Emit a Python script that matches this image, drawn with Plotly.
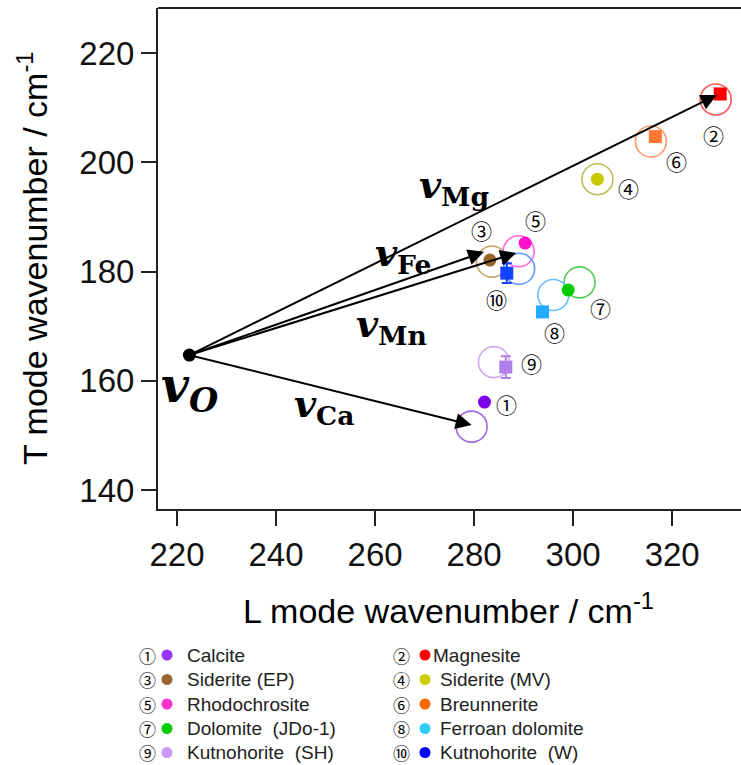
import plotly.graph_objects as go

# ---- data -------------------------------------------------------------
minerals = ["Calcite", "Magnesite", "Siderite (EP)", "Siderite (MV)", "Rhodochrosite",
            "Breunnerite", "Dolomite\u00a0 (JDo-1)", "Ferroan dolomite",
            "Kutnohorite\u00a0 (SH)", "Kutnohorite\u00a0 (W)"]
circled = ["①", "②", "③", "④", "⑤", "⑥", "⑦", "⑧", "⑨", "⑩"]

# measured L / T mode wavenumbers (filled markers)
meas_L = [282.1, 329.7, 283.2, 304.9, 290.3, 316.6, 299.0, 293.8, 286.4, 286.6]
meas_T = [156.1, 212.5, 182.1, 196.9, 185.2, 204.7, 176.6, 172.6, 162.5, 179.7]
meas_T_err = [0, 0, 0, 0, 0, 0, 0, 0, 2.0, 1.8]

# calculated positions (open circles)
calc_L = [279.5, 328.8, 283.6, 304.9, 289.0, 315.7, 301.3, 296.0, 284.0, 289.1]
calc_T = [151.6, 211.5, 181.8, 196.9, 183.7, 203.8, 178.0, 175.7, 163.4, 180.5]

# vector origin and end points
origin_L, origin_T = 222.5, 164.7
vec_names = ["Mg", "Fe", "Mn", "Ca"]
vec_end_L = [329.0, 282.0, 288.5, 279.5]
vec_end_T = [212.3, 183.6, 183.4, 151.9]

x_ticks = [220, 240, 260, 280, 300, 320]
y_ticks = [140, 160, 180, 200, 220]

# ---- styles -----------------------------------------------------------
fill_colors = ["#7B00E6", "#FF0000", "#9A6428", "#C8C800", "#FF11CC",
               "#FF7733", "#00CC00", "#22AAFF", "#B080E8", "#1144FF"]
ring_colors = ["#A566E8", "#FF5555", "#C8A870", "#BDBD55", "#FF66DD",
               "#FF9966", "#55CC55", "#66BBFF", "#CCAAF0", "#6699FF"]
legend_colors = ["#9933FF", "#FF0000", "#996633", "#CCCC00", "#FF33CC",
                 "#FF6600", "#00CC00", "#33CCFF", "#CC99FF", "#0000FF"]
symbols = ["circle", "square", "circle", "circle", "circle",
           "square", "circle", "square", "square", "square"]
# pixel offsets of the circled numbers from each filled marker
num_dx = [22, -7, -8, 31, 10, 21, 32, 12, 26, -10]
num_dy = [-2, -41, 30, -9, 23, -24, -18, -20, 4, -26]

AX_FONT = "Arial, 'Liberation Sans', sans-serif"
MATH_FONT = "'DejaVu Serif', serif"
NUM_FONT = "'Noto Sans CJK JP', 'DejaVu Sans', sans-serif"

W, H = 741, 765
ML, MR, MT, MB = 158, 0, 8, 256
PW, PH = W - ML - MR, H - MT - MB

def px_to_paper(px, py):
    return (px - ML) / PW, (H - MB - py) / PH

fig = go.Figure()

# open circles
for i in range(len(minerals)):
    fig.add_trace(go.Scatter(
        x=[calc_L[i]], y=[calc_T[i]], mode="markers",
        marker=dict(symbol="circle-open", size=31, color=ring_colors[i],
                    line=dict(color=ring_colors[i], width=1.6)),
        showlegend=False, hoverinfo="skip"))

# filled markers
for i in range(len(minerals)):
    err = None
    if meas_T_err[i] > 0:
        err = dict(type="data", array=[meas_T_err[i]], color=fill_colors[i],
                   thickness=2, width=5)
    fig.add_trace(go.Scatter(
        x=[meas_L[i]], y=[meas_T[i]], mode="markers",
        marker=dict(symbol=symbols[i], size=13, color=fill_colors[i],
                    line=dict(width=0)),
        error_y=err, name=minerals[i], showlegend=False))

# origin point
fig.add_trace(go.Scatter(x=[origin_L], y=[origin_T], mode="markers",
                         marker=dict(size=13, color="black"),
                         showlegend=False, hoverinfo="skip"))

annotations = []

# vectors
for j in range(len(vec_names)):
    annotations.append(dict(
        x=vec_end_L[j], y=vec_end_T[j], xref="x", yref="y",
        ax=origin_L, ay=origin_T, axref="x", ayref="y",
        text="", showarrow=True, arrowhead=2, arrowsize=1.6,
        arrowwidth=2, arrowcolor="black", standoff=0, startstandoff=0))

# vector labels
vec_label_pos = {"Mg": (268.5, 195.5), "Fe": (259.5, 183.0),
                 "Mn": (255.8, 170.0), "Ca": (243.3, 155.4)}
for name, (lx, ly) in vec_label_pos.items():
    annotations.append(dict(
        x=lx, y=ly, xref="x", yref="y", xanchor="left", yanchor="middle",
        showarrow=False,
        text=f"<b><i>v</i></b><sub><b>{name}</b></sub>",
        font=dict(family=MATH_FONT, size=38, color="black")))
annotations.append(dict(
    x=216.3, y=158.5, xref="x", yref="y", xanchor="left", yanchor="middle",
    showarrow=False, text="<b><i>v</i></b><sub><b><i>O</i></b></sub>",
    font=dict(family=MATH_FONT, size=48, color="black")))

# circled numbers beside the points
for i in range(len(minerals)):
    annotations.append(dict(
        x=meas_L[i], y=meas_T[i], xref="x", yref="y",
        xshift=num_dx[i], yshift=num_dy[i], showarrow=False,
        xanchor="center", yanchor="middle",
        text=circled[i], font=dict(family=NUM_FONT, size=21, color="black")))

# axis titles
tx, ty = px_to_paper(448, 608)
annotations.append(dict(x=tx, y=ty, xref="paper", yref="paper", showarrow=False,
                        xanchor="center", yanchor="middle",
                        text="L mode wavenumber / cm<sup>-1</sup>",
                        font=dict(family=AX_FONT, size=34, color="black")))
tx, ty = px_to_paper(32, 258)
annotations.append(dict(x=tx, y=ty, xref="paper", yref="paper", showarrow=False,
                        xanchor="center", yanchor="middle", textangle=-90,
                        text="T mode wavenumber / cm<sup>-1</sup>",
                        font=dict(family=AX_FONT, size=34, color="black")))

# legend block
shapes = []
row_y = [655, 679.5, 704, 728.5, 752.5]
col_num_x = [147.5, 401]
col_dot_x = [167, 425]
col_txt_x = [185, 438]
for i in range(len(minerals)):
    c, r = i % 2, i // 2
    nx, ny = px_to_paper(col_num_x[c], row_y[r])
    annotations.append(dict(x=nx, y=ny, xref="paper", yref="paper", showarrow=False,
                            xanchor="center", yanchor="middle", text=circled[i],
                            font=dict(family=NUM_FONT, size=17, color="black")))
    dx, dy = px_to_paper(col_dot_x[c], row_y[r])
    shapes.append(dict(type="circle", xref="paper", yref="paper",
                       xsizemode="pixel", ysizemode="pixel",
                       xanchor=dx, yanchor=dy, x0=-5.5, x1=5.5, y0=-5.5, y1=5.5,
                       fillcolor=legend_colors[i], line=dict(width=0)))
    txt_x = col_txt_x[c] - (7 if i == 1 else 0)
    lx, ly = px_to_paper(txt_x, row_y[r])
    annotations.append(dict(x=lx, y=ly, xref="paper", yref="paper", showarrow=False,
                            xanchor="left", yanchor="middle", text=minerals[i],
                            font=dict(family=AX_FONT, size=19, color="#222222")))

# top frame line
shapes.append(dict(type="line", xref="paper", yref="paper", x0=0, x1=1, y0=1, y1=1,
                   line=dict(color="#222222", width=2)))

fig.update_layout(
    width=W, height=H,
    margin=dict(l=ML, r=MR, t=MT, b=MB, pad=0),
    paper_bgcolor="white", plot_bgcolor="white",
    showlegend=False,
    annotations=annotations, shapes=shapes,
    xaxis=dict(range=[216.16, 333.9], tickvals=x_ticks, ticks="outside",
               ticklen=15, tickwidth=2, tickcolor="#222222",
               showline=True, linecolor="#222222", linewidth=2,
               showgrid=False, zeroline=False,
               tickfont=dict(family=AX_FONT, size=33, color="#111111")),
    yaxis=dict(range=[136.52, 228.24], tickvals=y_ticks, ticks="outside",
               ticklen=15, tickwidth=2, tickcolor="#222222",
               showline=True, linecolor="#222222", linewidth=2,
               showgrid=False, zeroline=False,
               tickfont=dict(family=AX_FONT, size=33, color="#111111")),
)

fig.write_html("out.html")
